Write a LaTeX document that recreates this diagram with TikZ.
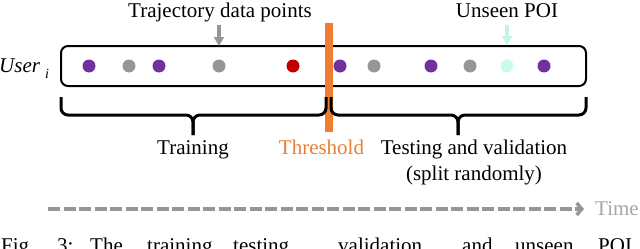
\documentclass[tikz,border=0pt]{standalone}
\usepackage{fontspec}
\setmainfont{Liberation Serif}
\usetikzlibrary{arrows.meta}
\definecolor{poipurple}{RGB}{112,48,160}
\definecolor{poigray}{RGB}{150,150,150}
\definecolor{poired}{RGB}{192,0,0}
\definecolor{poicyan}{RGB}{204,250,238}
\definecolor{arrcyan}{RGB}{192,245,232}
\definecolor{throrange}{RGB}{237,125,49}
\definecolor{timegray}{RGB}{166,166,166}
\begin{document}
\begin{tikzpicture}[x=1pt,y=-1pt,
  lbl/.style={font=\fontsize{21}{24}\selectfont, inner sep=0pt, anchor=base},
  capword/.style={lbl, anchor=base west},
  dot/.style={circle, inner sep=0pt, minimum size=13pt},
  seqbox/.style={draw=black, line width=2pt, rounded corners=7pt, minimum width=525pt, minimum height=40pt, inner sep=0pt},
  bracepath/.style={draw=black, line width=3pt, rounded corners=7pt},
  blockarrow/.style={line width=4pt, -{Triangle[width=10pt,length=9pt]}},
  timeline/.style={draw=poigray, line width=3.5pt, dash pattern=on 12pt off 3.5pt, -{Straight Barb[length=5pt,width=12pt]}}
]
\useasboundingbox (0,0) rectangle (640,249);
\clip (0,0) rectangle (640,249);

% sequence box
\node[seqbox] (seq) at (323.5,66) {};

% dots
\node[dot, fill=poipurple] (d1) at (89,66) {};
\node[dot, fill=poigray] (d2) at (129,66) {};
\node[dot, fill=poipurple] (d3) at (159,66) {};
\node[dot, fill=poigray] (d4) at (219,66) {};
\node[dot, fill=poired] (d5) at (293,66) {};
\node[dot, fill=poipurple] (d6) at (340,66) {};
\node[dot, fill=poigray] (d7) at (374,66) {};
\node[dot, fill=poipurple] (d8) at (431,66) {};
\node[dot, fill=poigray] (d9) at (470,66) {};
\node[dot, fill=poicyan] (d10) at (507,66) {};
\node[dot, fill=poipurple] (d11) at (544,66) {};

% threshold bar
\node[fill=throrange, minimum width=8pt, minimum height=109pt, inner sep=0pt] (bar) at (329,77.5) {};

% braces
\path[bracepath] (61,97) -- (61,115) -- (193,115) -- (193,135);
\path[bracepath] (326,97) -- (326,115) -- (193,115) -- (193,135);
\path[bracepath] (331,97) -- (331,115) -- (458,115) -- (458,135);
\path[bracepath] (586,97) -- (586,115) -- (458,115) -- (458,135);

% top labels and arrows
\node[lbl] (traj) at (220,17) {Trajectory data points};
\node[lbl] (unseen) at (507,17) {Unseen POI};
\coordinate (ga1) at (219,25);
\coordinate (ga2) at (219,46);
\coordinate (ca1) at (507,25);
\coordinate (ca2) at (507,45);
\draw[blockarrow, draw=poigray, fill=poigray] (ga1) -- (ga2);
\draw[blockarrow, draw=arrcyan, fill=arrcyan] (ca1) -- (ca2);

% user label
\node[lbl, anchor=base west] (user) at (-1,72) {\textit{User}};
\node[lbl, font=\fontsize{14}{16}\selectfont\itshape] (useri) at (47,78) {i};

% bottom labels
\node[lbl] (train) at (193,154) {Training};
\node[lbl, text=throrange] (thr) at (321.5,154) {Threshold};
\node[lbl] (test) at (474,154) {Testing and validation};
\node[lbl] (split) at (474,180) {(split randomly)};

% time arrow
\node[lbl, text=timegray, anchor=base west] (time) at (595,215) {Time};
\coordinate (tstart) at (48,209);
\coordinate (tend) at (584,209);
\draw[timeline] (tstart) -- (tend);

% caption (cut off at the bottom edge, as in the reference)
\node[capword] (c1) at (1,252) {Fig.};
\node[capword] (c2) at (57,252) {3:};
\node[capword] (c3) at (90,252) {The};
\node[capword] (c4) at (147,252) {training,};
\node[capword] (c5) at (233,252) {testing,};
\node[capword] (c6) at (338,252) {validation,};
\node[capword] (c7) at (462,252) {and};
\node[capword] (c8) at (515,252) {unseen};
\node[capword] (c9) at (598,252) {POI};
\end{tikzpicture}
\end{document}
